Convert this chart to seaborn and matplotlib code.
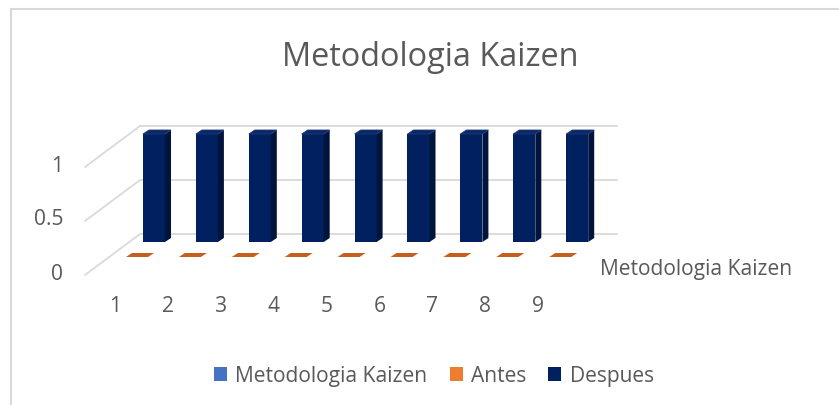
import matplotlib
matplotlib.use("Agg")
import matplotlib.pyplot as plt
from matplotlib.patches import Polygon, Rectangle, Patch
import seaborn as sns
import pandas as pd
import numpy as np

# ---- data ----
categories = ["1", "2", "3", "4", "5", "6", "7", "8", "9"]
series_names = ["Metodologia Kaizen", "Antes", "Despues"]
kaizen = [np.nan] * 9
antes = [0, 0, 0, 0, 0, 0, 0, 0, 0]
despues = [1, 1, 1, 1, 1, 1, 1, 1, 1]
y_ticks = [0, 0.5, 1]
y_tick_labels = ["0", "0.5", "1"]
title = "Metodologia Kaizen"
depth_label = "Metodologia Kaizen"

# ---- style ----
FONT = ["Open Sans", "DejaVu Sans"]
TXT = "#595959"
GRID = "#D9D9D9"
C_KAIZEN = "#4472C4"
C_ANTES = "#ED7D31"
C_ANTES_TOP = "#C55F1E"
C_DESP = "#002060"
C_DESP_SIDE = "#00143C"
C_DESP_TOP = "#0B2868"

sns.set_style("white")
plt.rcParams["font.family"] = FONT

W, H = 839, 406
fig = plt.figure(figsize=(W / 100, H / 100), dpi=100)
ax = fig.add_axes([0, 0, 1, 1])
renderer = fig.canvas.get_renderer()

def fit_size(text, target_px, base=10.0):
    t = fig.text(0, 0, text, fontsize=base)
    w = t.get_window_extent(renderer).width
    t.remove()
    return base * target_px / w

SMALL = fit_size("Metodologia Kaizen", 192)
BIG = fit_size("Metodologia Kaizen", 298)

# pixel geometry of the projected 3D scene
X0, SX = 154.0, 52.9   # back row: category 0 centre, spacing (px)
Y0, SY = 243.0, 108.0  # back row: baseline, px per unit

def dx(px):
    return px / SX

def dy(py):
    return -py / SY

df = pd.DataFrame({"cat": categories, "Despues": despues})
sns.barplot(data=df, x="cat", y="Despues", color=C_DESP, saturation=1,
            width=0.416, linewidth=0, ax=ax, zorder=3)

ax.set_xlim((0 - X0) / SX, (W - X0) / SX)
ax.set_ylim((Y0 - H) / SY, Y0 / SY)
ax.axis("off")

DDX, DDY = dx(6), dy(-4)   # bar depth

# side and top faces of Despues bars
for p in list(ax.patches):
    x0, y0, w, h = p.get_x(), p.get_y(), p.get_width(), p.get_height()
    ax.add_patch(Polygon([(x0 + w, y0), (x0 + w + DDX, y0 + DDY),
                          (x0 + w + DDX, y0 + h + DDY), (x0 + w, y0 + h)],
                         closed=True, color=C_DESP_SIDE, lw=0, zorder=3))
    ax.add_patch(Polygon([(x0, y0 + h), (x0 + w, y0 + h),
                          (x0 + w + DDX, y0 + h + DDY), (x0 + DDX, y0 + h + DDY)],
                         closed=True, facecolor=C_DESP_TOP, edgecolor="#1E3A7A",
                         lw=0.6, zorder=3))

# Antes row (one row in front of Despues)
ROW_DX, ROW_DY = dx(-17), dy(15)
bw = 0.416
for i, v in enumerate(antes):
    x0 = i - bw / 2 + ROW_DX
    y0 = ROW_DY
    if v > 0:
        ax.add_patch(Rectangle((x0, y0), bw, v, color=C_ANTES, lw=0, zorder=4))
    ax.add_patch(Polygon([(x0, y0 + v), (x0 + bw, y0 + v),
                          (x0 + bw + DDX, y0 + v + DDY), (x0 + DDX, y0 + v + DDY)],
                         closed=True, color=C_ANTES_TOP, lw=0, zorder=4))

# walls: back wall gridlines + side wall diagonals
back_off = dy(-8)          # wall sits slightly behind bars
front_off = dy(33)         # front plane of the floor
xl_front, xl_back, xr_back = (85 - X0) / SX, (140 - X0) / SX, (617 - X0) / SX
for v, lab in zip(y_ticks, y_tick_labels):
    ax.plot([xl_back, xr_back], [v + back_off] * 2, color=GRID, lw=1.3, zorder=1)
    ax.plot([xl_front, xl_back], [v + front_off, v + back_off], color=GRID, lw=1.3, zorder=1)
    ax.text((63 - X0) / SX, v + front_off + dy(-2), lab, ha="right", va="center",
            fontsize=SMALL, color=TXT)

# category labels on the front row
for i, c in enumerate(categories):
    ax.text(i + dx(115 - X0), (Y0 - 307) / SY, c, ha="center", va="center",
            fontsize=SMALL, color=TXT)

# depth (series) axis label
ax.text((600 - X0) / SX, (Y0 - 270) / SY, depth_label, ha="left", va="center",
        fontsize=SMALL, color=TXT)

# title
fig.text(430 / W, 1 - 57 / H, title, ha="center", va="center", fontsize=BIG,
         color=TXT)

# legend
handles = [Patch(facecolor=c, edgecolor="none", label=n)
           for c, n in zip([C_KAIZEN, C_ANTES, C_DESP], series_names)]
fig.legend(handles=handles, loc="center", bbox_to_anchor=(434 / W, 1 - 377 / H),
           ncol=3, frameon=False, handlelength=0.62, handleheight=0.62,
           handletextpad=0.4, columnspacing=1.05, fontsize=SMALL,
           labelcolor=TXT)

# chart area border
fig.add_artist(Rectangle((11 / W, -0.1), 2, 1 - 10 / H + 0.1,
                         transform=fig.transFigure, fill=False,
                         edgecolor=GRID, lw=1.5))

fig.savefig("out.png", dpi=100)
